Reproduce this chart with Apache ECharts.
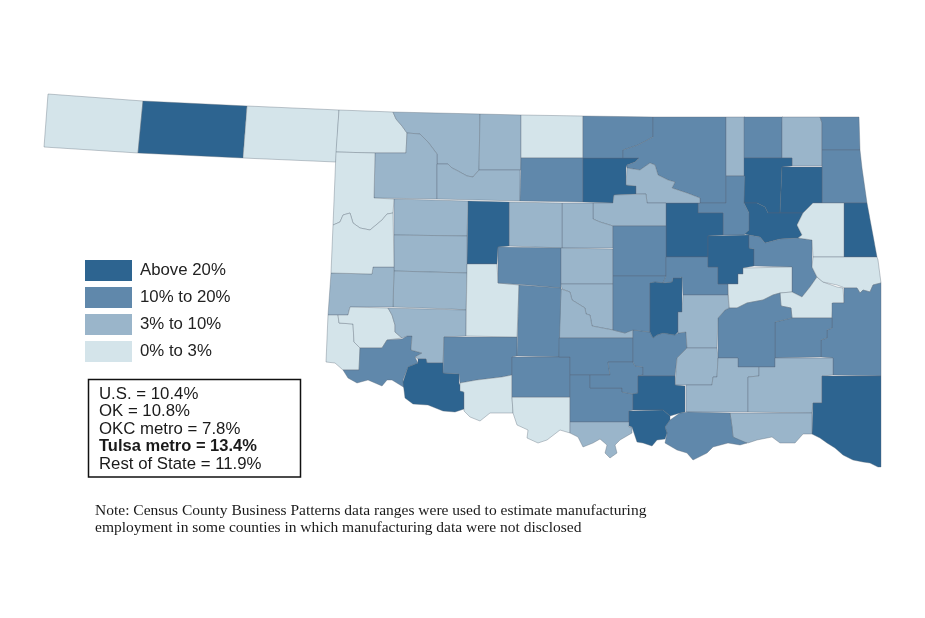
<!doctype html>
<html lang="en">
<head>
    <meta charset="UTF-8">
    <title>Oklahoma manufacturing employment share</title>
    <script src="https://cdn.jsdelivr.net/npm/echarts@6/dist/echarts.min.js"></script>
    <style>
        html, body { margin: 0; padding: 0; background: #fff; }
        #map { width: 925px; height: 618px; }
    </style>
</head>
<body>
<div id="map"></div>
<script>
    // legend bands, lowest first (0..3)
    const bandLabels = ['0% to 3%', '3% to 10%', '10% to 20%', 'Above 20%'];
    const bandColors = ['#d4e4ea', '#9ab5ca', '#6088ab', '#2d6490'];

    const countyNames = [
        'Cimarron', 'Texas', 'Beaver', 'Harper', 'Woods', 'Alfalfa', 'Grant', 'Woodward', 'Major', 'Garfield',
        'Noble', 'Kay', 'Osage', 'Washington', 'Nowata', 'Craig', 'Ottawa', 'Delaware', 'Adair', 'Rogers',
        'Mayes', 'Wagoner', 'Tulsa', 'Creek', 'Pawnee', 'Payne', 'Logan', 'Kingfisher', 'Blaine', 'Dewey',
        'Custer', 'Washita', 'Beckham', 'Ellis', 'Roger Mills', 'Harmon', 'Greer', 'Jackson', 'Kiowa', 'Tillman',
        'Comanche', 'Cotton', 'Jefferson', 'Caddo', 'Canadian', 'Oklahoma', 'Cleveland', 'McClain', 'Grady', 'Stephens',
        'Garvin', 'Carter', 'Murray', 'Pontotoc', 'Lincoln', 'Pottawatomie', 'Seminole', 'Okfuskee', 'Okmulgee', 'Muskogee',
        'McIntosh', 'Haskell', 'Cherokee', 'Sequoyah', 'Le Flore', 'Latimer', 'Pittsburg', 'Hughes', 'Coal', 'Atoka',
        'Pushmataha', 'McCurtain', 'Choctaw', 'Bryan', 'Johnston', 'Marshall', 'Love'
    ];
    const countyBands = [
        0, 3, 0, 0, 1, 1, 0, 1, 1, 2,
        3, 2, 2, 1, 2, 1, 2, 2, 3, 3,
        3, 3, 2, 3, 1, 1, 1, 1, 3, 1,
        1, 1, 1, 0, 0, 0, 0, 2, 1, 3,
        2, 0, 0, 0, 2, 1, 1, 1, 2, 2,
        2, 2, 2, 2, 2, 2, 3, 2, 3, 2,
        0, 0, 0, 0, 2, 2, 2, 1, 1, 1,
        1, 3, 1, 2, 3, 3, 1
    ];

    const statLines = ['U.S. = 10.4%', 'OK = 10.8%', 'OKC metro = 7.8%', 'Tulsa metro = 13.4%', 'Rest of State = 11.9%'];
    const noteLines = [
        'Note: Census County Business Patterns data ranges were used to estimate manufacturing',
        'employment in some counties in which manufacturing data were not disclosed'
    ];

    // county outlines, in page pixels
    const countyOutlines = {
        'Cimarron': [[48,94],[143,101],[138,153],[44,147]],
        'Texas': [[143,101],[247,106],[243,158],[138,153]],
        'Beaver': [[247,106],[339,110],[336,162],[243,158]],
        'Harper': [[339,110],[393,112],[396,119],[402,126],[407,133],[406,153],[375,153],[336,152]],
        'Woods': [[393,112],[480,114],[479,170],[473,177],[467,176],[458,171],[452,168],[448,164],[437,164],[437,154],[428,142],[420,134],[407,133],[402,126],[396,119]],
        'Alfalfa': [[480,114],[521,115],[521,170],[479,170]],
        'Grant': [[521,115],[583,116],[583,158],[521,158]],
        'Woodward': [[375,153],[406,153],[407,133],[420,134],[428,142],[437,154],[437,199],[374,198]],
        'Major': [[437,164],[448,164],[452,168],[458,171],[467,176],[473,177],[479,170],[520,170],[520,201],[437,199]],
        'Garfield': [[521,158],[583,158],[583,202],[520,201]],
        'Noble': [[583,158],[639,158],[635,162],[627,165],[626,168],[626,185],[636,186],[636,194],[614,195],[613,203],[583,202]],
        'Kay': [[583,116],[653,117],[653,137],[638,145],[623,150],[623,158],[583,158]],
        'Osage': [[653,117],[726,117],[726,203],[700,203],[700,198],[687,193],[672,188],[675,182],[668,180],[658,175],[655,165],[650,163],[640,170],[627,168],[627,165],[635,162],[639,158],[623,158],[623,150],[638,145],[653,137]],
        'Washington': [[726,117],[745,117],[745,176],[726,176]],
        'Nowata': [[744,117],[783,117],[782,123],[782,158],[744,158]],
        'Craig': [[782,117],[820,117],[822,123],[822,166],[792,166],[792,158],[782,158]],
        'Ottawa': [[820,117],[859,117],[860,150],[822,150],[822,123]],
        'Delaware': [[822,150],[860,150],[862,168],[867,203],[822,203]],
        'Adair': [[844,203],[867,203],[877,257],[844,257]],
        'Rogers': [[744,158],[792,158],[792,166],[782,167],[780,213],[768,213],[765,207],[757,203],[744,203]],
        'Mayes': [[782,167],[822,167],[822,203],[813,203],[803,213],[780,213]],
        'Wagoner': [[744,203],[757,203],[765,207],[768,213],[803,213],[797,225],[802,235],[798,238],[780,239],[765,243],[760,237],[749,235],[744,234],[749,230],[749,213]],
        'Tulsa': [[726,176],[745,176],[744,203],[749,213],[749,230],[744,235],[723,235],[723,213],[698,213],[698,203],[726,203]],
        'Creek': [[666,203],[698,203],[698,213],[723,213],[723,235],[708,236],[708,257],[666,257]],
        'Pawnee': [[627,168],[640,170],[650,163],[655,165],[658,175],[668,180],[675,182],[672,188],[687,193],[700,198],[700,203],[647,203],[646,194],[636,194],[636,186],[626,185]],
        'Payne': [[614,195],[646,194],[647,203],[666,203],[666,226],[613,226],[600,222],[593,219],[593,203],[613,203]],
        'Logan': [[562,203],[593,203],[593,219],[600,222],[613,226],[613,248],[562,248]],
        'Kingfisher': [[509,202],[562,203],[562,248],[509,246]],
        'Blaine': [[468,201],[509,202],[509,246],[498,247],[497,264],[467,264]],
        'Dewey': [[394,199],[468,201],[467,236],[394,235]],
        'Custer': [[394,235],[467,236],[467,273],[394,271]],
        'Washita': [[394,271],[467,273],[466,310],[452,309],[393,307]],
        'Beckham': [[331,273],[372,274],[373,267],[394,267],[393,307],[350,307],[348,315],[328,315]],
        'Ellis': [[336,152],[375,153],[374,198],[394,199],[393,213],[387,214],[382,220],[370,230],[360,228],[353,223],[350,213],[343,215],[340,222],[333,225]],
        'Roger Mills': [[333,225],[340,222],[343,215],[350,213],[353,223],[360,228],[370,230],[382,220],[387,214],[393,213],[394,267],[373,267],[372,274],[331,273]],
        'Harmon': [[328,315],[338,315],[339,323],[353,324],[354,342],[360,348],[359,370],[343,370],[335,363],[326,362]],
        'Greer': [[350,307],[388,308],[392,315],[395,325],[395,332],[402,338],[387,340],[382,348],[360,348],[354,342],[353,324],[339,323],[338,315],[348,315]],
        'Jackson': [[360,348],[382,348],[387,340],[402,339],[407,336],[412,336],[411,350],[422,353],[415,357],[418,363],[408,367],[403,380],[405,388],[392,380],[387,380],[382,386],[368,380],[357,383],[348,378],[343,370],[359,370]],
        'Kiowa': [[388,308],[466,310],[466,336],[444,337],[443,363],[427,363],[426,359],[418,359],[415,357],[422,353],[411,350],[412,336],[407,336],[402,338],[395,332],[395,325],[392,315]],
        'Tillman': [[418,359],[426,359],[427,363],[443,363],[443,373],[459,374],[459,383],[464,393],[464,409],[455,412],[443,411],[428,405],[413,404],[405,398],[403,382],[408,367],[418,363]],
        'Comanche': [[444,337],[517,337],[517,356],[512,357],[512,375],[502,377],[477,380],[460,383],[459,374],[443,373]],
        'Cotton': [[460,383],[477,380],[502,377],[512,375],[512,397],[513,413],[502,413],[490,413],[480,421],[470,417],[464,411],[464,392],[460,391]],
        'Jefferson': [[512,397],[570,397],[570,433],[560,430],[547,440],[538,443],[527,438],[528,430],[517,425],[513,413]],
        'Caddo': [[467,264],[497,264],[498,283],[519,285],[517,337],[466,336]],
        'Canadian': [[498,247],[561,248],[561,288],[527,285],[498,283]],
        'Oklahoma': [[561,248],[613,249],[613,284],[561,284]],
        'Cleveland': [[561,284],[613,284],[613,330],[592,326],[590,315],[586,314],[585,308],[572,300],[570,292],[562,289]],
        'McClain': [[561,289],[570,292],[572,300],[585,308],[586,314],[590,315],[592,326],[613,330],[625,333],[633,328],[633,338],[559,338]],
        'Grady': [[519,285],[561,288],[559,357],[517,356]],
        'Stephens': [[512,357],[570,357],[570,397],[512,397]],
        'Garvin': [[559,338],[633,338],[633,362],[608,362],[610,375],[570,375],[570,357],[559,357]],
        'Carter': [[570,375],[590,375],[590,388],[622,388],[622,392],[633,394],[633,410],[629,411],[629,422],[570,422]],
        'Murray': [[608,362],[633,362],[635,366],[643,367],[643,375],[638,376],[638,393],[633,394],[622,392],[622,388],[590,388],[590,375],[610,375]],
        'Pontotoc': [[633,330],[650,332],[653,338],[657,335],[663,333],[675,335],[678,333],[686,332],[687,348],[677,358],[675,376],[638,376],[643,375],[643,367],[635,366],[633,362]],
        'Lincoln': [[613,226],[666,226],[666,276],[613,276]],
        'Pottawatomie': [[613,276],[666,276],[663,283],[655,282],[650,283],[650,332],[633,330],[625,333],[613,330]],
        'Seminole': [[650,283],[655,282],[663,283],[672,282],[673,278],[680,278],[682,277],[682,312],[678,312],[678,332],[675,335],[663,333],[657,335],[653,338],[650,332]],
        'Okfuskee': [[666,257],[708,257],[708,267],[718,267],[718,284],[728,284],[728,295],[683,295],[682,277],[680,278],[673,278],[672,282],[663,283],[666,276]],
        'Okmulgee': [[708,236],[749,235],[749,248],[754,249],[754,266],[743,268],[743,274],[738,274],[738,284],[718,284],[718,267],[708,267]],
        'Muskogee': [[749,235],[760,237],[765,243],[780,239],[798,238],[812,240],[812,267],[817,277],[810,287],[802,297],[792,292],[792,267],[754,266],[754,249],[749,248]],
        'McIntosh': [[743,268],[792,267],[792,292],[780,293],[773,295],[763,300],[747,303],[737,308],[729,308],[728,284],[738,284],[738,274],[743,274]],
        'Haskell': [[780,293],[792,292],[802,297],[810,287],[817,277],[823,282],[837,287],[843,288],[844,303],[833,303],[832,318],[792,318],[791,308],[781,306]],
        'Cherokee': [[813,203],[844,203],[844,257],[813,257],[812,240],[798,238],[802,235],[797,225],[803,213]],
        'Sequoyah': [[813,257],[877,257],[878,260],[881,283],[873,285],[870,292],[863,290],[860,293],[857,288],[845,288],[837,285],[823,282],[817,277],[812,267]],
        'Le Flore': [[844,288],[857,288],[860,293],[863,290],[870,292],[873,285],[881,283],[881,376],[833,375],[833,358],[821,357],[821,340],[827,338],[827,330],[832,328],[832,303],[844,303]],
        'Latimer': [[775,322],[792,318],[832,318],[832,328],[827,330],[827,338],[821,340],[821,357],[775,358]],
        'Pittsburg': [[718,318],[725,310],[729,308],[737,308],[747,303],[763,300],[773,295],[780,293],[781,306],[791,308],[792,318],[775,322],[775,367],[738,367],[738,358],[718,358]],
        'Hughes': [[683,295],[728,295],[729,308],[725,310],[718,318],[717,348],[687,348],[686,332],[678,333],[678,312],[682,312]],
        'Coal': [[677,358],[687,348],[717,348],[718,358],[717,377],[713,377],[712,385],[675,385]],
        'Atoka': [[686,385],[712,385],[713,377],[717,377],[718,358],[738,358],[738,367],[759,367],[759,376],[748,377],[748,412],[686,412]],
        'Pushmataha': [[748,377],[759,376],[759,367],[775,367],[775,358],[833,358],[833,375],[822,376],[822,403],[813,403],[812,413],[748,412]],
        'McCurtain': [[822,376],[881,376],[881,467],[878,467],[870,463],[863,462],[853,460],[843,455],[835,448],[827,443],[820,438],[812,434],[813,403],[822,403]],
        'Choctaw': [[730,413],[812,413],[812,434],[803,434],[795,443],[780,443],[772,437],[757,440],[748,443],[740,442],[733,437],[732,427]],
        'Bryan': [[680,413],[688,412],[730,413],[732,427],[733,437],[747,443],[740,445],[728,443],[713,447],[707,453],[693,460],[687,453],[677,450],[665,443],[667,433],[665,427],[670,420]],
        'Johnston': [[638,376],[675,376],[675,385],[685,386],[685,412],[680,413],[670,416],[663,410],[633,410],[633,394],[638,393]],
        'Marshall': [[629,411],[663,410],[670,416],[670,420],[665,427],[667,433],[665,439],[657,440],[652,446],[643,443],[637,442],[632,427],[629,426]],
        'Love': [[570,422],[629,422],[629,427],[632,427],[632,433],[620,440],[615,445],[617,453],[610,458],[605,453],[607,445],[600,439],[593,443],[583,447],[578,437],[570,433]]
    };

    const features = countyNames.map(name => ({
        type: 'Feature',
        properties: { name: name },
        geometry: { type: 'Polygon', coordinates: [countyOutlines[name].concat([countyOutlines[name][0]])] }
    }));
    echarts.registerMap('oklahoma', { type: 'FeatureCollection', features: features });

    // the outlines are page pixels, so the map box is just their extent
    const allPoints = countyNames.flatMap(name => countyOutlines[name]);
    const xs = allPoints.map(p => p[0]);
    const ys = allPoints.map(p => p[1]);
    const minX = Math.min(...xs), maxX = Math.max(...xs);
    const minY = Math.min(...ys), maxY = Math.max(...ys);

    const chart = echarts.init(document.getElementById('map'), null, { renderer: 'canvas' });
    chart.setOption({
        backgroundColor: '#fff',
        animation: false,
        visualMap: {
            type: 'piecewise',
            left: 75,
            top: 250,
            padding: 10,
            itemWidth: 47,
            itemHeight: 21,
            itemGap: 6,
            textGap: 8,
            itemSymbol: 'rect',
            selectedMode: false,
            hoverLink: false,
            seriesIndex: 0,
            textStyle: { fontFamily: 'Liberation Sans', fontSize: 16.8, color: '#222' },
            pieces: bandLabels.map((label, i) => ({ value: i, label: label, color: bandColors[i] }))
        },
        series: [{
            type: 'map',
            map: 'oklahoma',
            projection: { project: p => p, unproject: p => p },
            left: minX,
            top: minY,
            width: maxX - minX,
            height: maxY - minY,
            roam: false,
            silent: true,
            label: { show: false },
            emphasis: { disabled: true },
            select: { disabled: true },
            itemStyle: { borderColor: 'rgba(85,100,115,0.5)', borderWidth: 0.7 },
            data: countyNames.map((name, i) => ({ name: name, value: countyBands[i] }))
        }],
        graphic: [
            {
                type: 'rect',
                shape: { x: 88.5, y: 379.5, width: 212, height: 97.5 },
                style: { fill: '#fff', stroke: '#111', lineWidth: 1.5 }
            },
            ...statLines.map((line, i) => ({
                type: 'text',
                x: 99,
                y: 394 + i * 17.5,
                style: {
                    text: line,
                    fill: '#1a1a1a',
                    font: (i === 3 ? 'bold 16.5px' : '16.8px') + ' "Liberation Sans"',
                    verticalAlign: 'middle'
                }
            })),
            ...noteLines.map((line, i) => ({
                type: 'text',
                x: 95,
                y: 511 + i * 17,
                style: {
                    text: line,
                    fill: '#1a1a1a',
                    font: '15.5px "Liberation Serif"',
                    verticalAlign: 'middle'
                }
            }))
        ]
    });
</script>
</body>
</html>
